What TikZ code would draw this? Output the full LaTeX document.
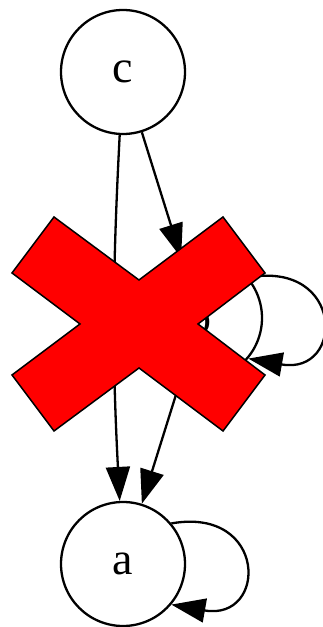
\documentclass[tikz,border=0pt]{standalone}
\usepackage{fontspec}
\setmainfont{Liberation Serif}
\usetikzlibrary{arrows.meta}
\tikzset{
    state/.style={draw, circle, line width=2.3pt, minimum size=124pt, inner sep=0pt, font=\fontsize{46}{46}\selectfont},
    edge/.style={line width=2.3pt, -{Triangle[length=34pt, width=24pt]}},
    crossmark/.style={draw=black, fill=red, line width=1.5pt, line join=miter}
}
\begin{document}
\begin{tikzpicture}[x=1pt, y=1pt]
    \useasboundingbox (0,0) rectangle (322,627);

    \node [state] (c) at (123,555) {c};
    \node [state] (b) at (200,309) {b};
    \node [state] (a) at (123,63) {a};

    \draw [edge] (c) to [bend right=3] (a);
    \draw [edge] (c) -- (b);
    \draw [edge] (b) -- (a);
    \draw [edge] (b.40) .. controls +(10:98) and +(-10:98) .. (b.-40);
    \draw [edge] (a.40) .. controls +(10:98) and +(-10:98) .. (a.-40);

    % cross over b
    \draw [crossmark] (54,410) -- (139,347) -- (223,410) -- (265,354) -- (198,303)
        -- (265,252) -- (223,196) -- (139,259) -- (54,196) -- (12,252) -- (80,303)
        -- (12,354) -- cycle;
\end{tikzpicture}
\end{document}
